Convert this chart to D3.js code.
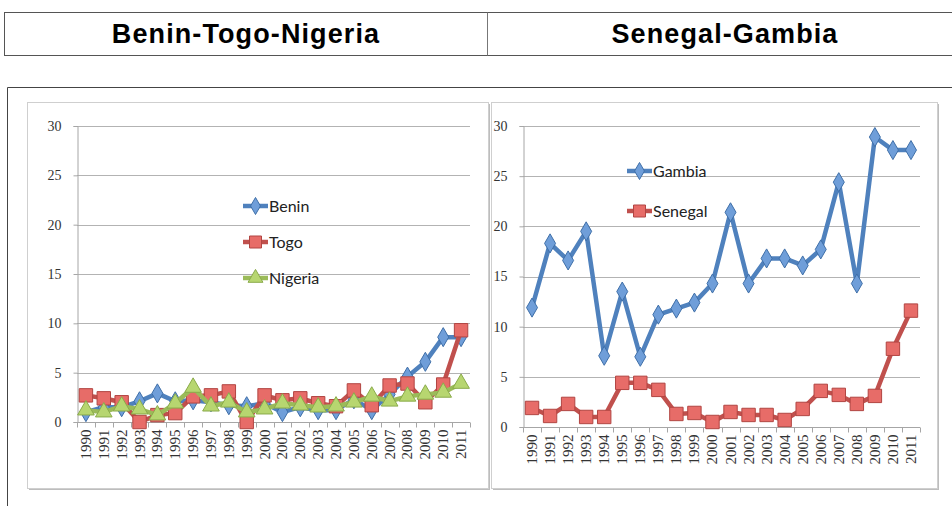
<!DOCTYPE html>
<html>
<head>
<meta charset="utf-8">
<script src="https://cdn.jsdelivr.net/npm/d3@7"></script>
<style>
  body { margin: 0; background: #fff; }
  svg { display: block; }
</style>
</head>
<body>
<div id="chart"></div>
<script>
// Data
const years = ['1990','1991','1992','1993','1994','1995','1996','1997','1998','1999','2000',
  '2001','2002','2003','2004','2005','2006','2007','2008','2009','2010','2011'];
const yTicks = [0, 5, 10, 15, 20, 25, 30];

const benin   = [1.0, 1.5, 1.5, 2.1, 2.9, 2.1, 2.2, 2.0, 1.7, 1.6, 1.9, 1.0, 1.5, 1.2, 1.2, 2.3, 1.2, 2.8, 4.6, 6.1, 8.6, 8.6];
const togo    = [2.7, 2.4, 2.0, 0.0, 0.7, 0.9, 2.6, 2.7, 3.1, 0.0, 2.7, 2.2, 2.4, 1.9, 1.6, 3.2, 1.7, 3.7, 3.9, 2.0, 3.8, 9.3];
const nigeria = [1.2, 1.0, 1.6, 1.3, 0.7, 1.9, 3.5, 1.6, 2.0, 1.0, 1.3, 1.9, 1.7, 1.5, 1.6, 2.0, 2.6, 2.1, 2.6, 2.8, 3.0, 3.9];

const gambia  = [11.9, 18.3, 16.6, 19.5, 7.1, 13.5, 7.0, 11.2, 11.8, 12.4, 14.3, 21.4, 14.3, 16.8, 16.8, 16.1, 17.7, 24.4, 14.3, 28.9, 27.6, 27.6];
const senegal = [1.9, 1.1, 2.3, 1.0, 1.0, 4.4, 4.4, 3.7, 1.3, 1.4, 0.5, 1.5, 1.2, 1.2, 0.7, 1.8, 3.6, 3.2, 2.3, 3.1, 7.8, 11.6];

const styles = {
  blue:  { line: '#4f81bd', fill: '#6f9ed9', stroke: '#3f6fa8', symbol: d3.symbolDiamond, size: 105 },
  red:   { line: '#c0504d', fill: '#e76c68', stroke: '#b14542', symbol: d3.symbolSquare, size: 180 },
  green: { line: '#9bbb59', fill: '#b7d670', stroke: '#8aab4a', symbol: d3.symbolTriangle, size: 120 }
};

const width = 952, height = 506;
const svg = d3.select('#chart').append('svg')
  .attr('width', width).attr('height', height);

// Header table
const head = svg.append('g').attr('class', 'header');
head.append('rect').attr('x', 4.5).attr('y', 12.5).attr('width', 960).attr('height', 43)
  .attr('fill', 'none').attr('stroke', '#555').attr('stroke-width', 1);
head.append('line').attr('x1', 487.5).attr('x2', 487.5).attr('y1', 12.5).attr('y2', 55.5)
  .attr('stroke', '#777');
head.selectAll('text')
  .data([{ t: 'Benin-Togo-Nigeria', x: 246 }, { t: 'Senegal-Gambia', x: 725 }])
  .join('text')
  .attr('x', d => d.x).attr('y', 43)
  .attr('text-anchor', 'middle')
  .style('font-family', 'Liberation Sans, Arial, sans-serif')
  .style('font-weight', 'bold').style('font-size', '27px')
  .style('letter-spacing', '1.1px')
  .text(d => d.t);

// Lower table cell
svg.append('path').attr('d', 'M7.5,506 V87.5 H960')
  .attr('fill', 'none').attr('stroke', '#444');

function drawChart(opts) {
  const g = svg.append('g');
  const { box, plot, series, legend } = opts;

  // chart area with soft shadow
  g.append('rect').attr('x', box.x + 2).attr('y', box.y + 2)
    .attr('width', box.w).attr('height', box.h).attr('fill', '#bdbdbd');
  g.append('rect').attr('x', box.x + 0.5).attr('y', box.y + 0.5)
    .attr('width', box.w).attr('height', box.h)
    .attr('fill', '#fff').attr('stroke', '#cfcfcf');

  const x = d3.scaleBand().domain(years).range([plot.x0, plot.x1]);
  const y = d3.scaleLinear().domain([0, 30]).range([plot.y0, plot.y1]);
  const cx = d => x(d) + x.bandwidth() / 2;

  // gridlines
  g.append('g').selectAll('line').data(yTicks.filter(v => v > 0)).join('line')
    .attr('x1', plot.x0).attr('x2', plot.x1)
    .attr('y1', d => Math.round(y(d)) + 0.5).attr('y2', d => Math.round(y(d)) + 0.5)
    .attr('stroke', '#b3b3b3');

  // y axis
  const yAxis = g.append('g')
    .attr('transform', `translate(${plot.x0 + 0.5},0)`)
    .call(d3.axisLeft(y).tickValues(yTicks).tickSize(4).tickPadding(12));
  yAxis.select('.domain').attr('stroke', '#a6a6a6');
  yAxis.selectAll('.tick line').attr('stroke', '#a6a6a6');
  yAxis.selectAll('text').attr('fill', '#333')
    .style('font-family', 'Liberation Serif, serif').style('font-size', '14px');

  // x axis with ticks between categories
  const xg = g.append('g').attr('transform', `translate(0,${Math.round(plot.y0) + 0.5})`);
  xg.append('line').attr('x1', plot.x0).attr('x2', plot.x1).attr('stroke', '#a6a6a6');
  xg.selectAll('line.tk').data(years.concat(['end'])).join('line').attr('class', 'tk')
    .attr('x1', (d, i) => Math.round(plot.x0 + i * x.step()) + 0.5)
    .attr('x2', (d, i) => Math.round(plot.x0 + i * x.step()) + 0.5)
    .attr('y1', 0).attr('y2', 5).attr('stroke', '#a6a6a6');
  xg.selectAll('text').data(years).join('text')
    .attr('transform', d => `translate(${cx(d) + 5},7) rotate(-90)`)
    .attr('text-anchor', 'end')
    .attr('fill', '#333')
    .style('font-family', 'Liberation Serif, serif').style('font-size', '15px')
    .text(d => d);

  const line = d3.line().x((d, i) => cx(years[i])).y(d => y(d));

  series.forEach(s => {
    const st = styles[s.color];
    g.append('path').datum(s.values)
      .attr('d', line).attr('fill', 'none')
      .attr('stroke', st.line).attr('stroke-width', 4.5).attr('stroke-linejoin', 'round');
    g.append('g').selectAll('path').data(s.values).join('path')
      .attr('transform', (d, i) => `translate(${cx(years[i])},${y(d)})`)
      .attr('d', d3.symbol(st.symbol, st.size))
      .attr('fill', st.fill).attr('stroke', st.stroke).attr('stroke-width', 1);
  });

  // legend
  const lg = g.append('g');
  series.forEach((s, i) => {
    const st = styles[s.color];
    const ly = legend.y + i * legend.gap;
    lg.append('line').attr('x1', legend.x).attr('x2', legend.x + 25)
      .attr('y1', ly).attr('y2', ly)
      .attr('stroke', st.line).attr('stroke-width', 4.5);
    lg.append('path').attr('transform', `translate(${legend.x + 12.5},${ly})`)
      .attr('d', d3.symbol(st.symbol, st.size * 0.8))
      .attr('fill', st.fill).attr('stroke', st.stroke);
    lg.append('text').attr('x', legend.x + 26).attr('y', ly + 6)
      .attr('fill', '#222')
      .style('font-family', 'Lato, sans-serif').style('font-size', '16px')
      .text(s.name);
  });
}

drawChart({
  box: { x: 27, y: 102, w: 461, h: 386 },
  plot: { x0: 77, x1: 470, y0: 422, y1: 126 },
  series: [
    { name: 'Benin', values: benin, color: 'blue' },
    { name: 'Togo', values: togo, color: 'red' },
    { name: 'Nigeria', values: nigeria, color: 'green' }
  ],
  legend: { x: 243, y: 206, gap: 36 }
});

drawChart({
  box: { x: 491, y: 102, w: 446, h: 386 },
  plot: { x0: 523, x1: 920, y0: 427, y1: 126 },
  series: [
    { name: 'Gambia', values: gambia, color: 'blue' },
    { name: 'Senegal', values: senegal, color: 'red' }
  ],
  legend: { x: 627, y: 171, gap: 40 }
});
</script>
</body>
</html>
